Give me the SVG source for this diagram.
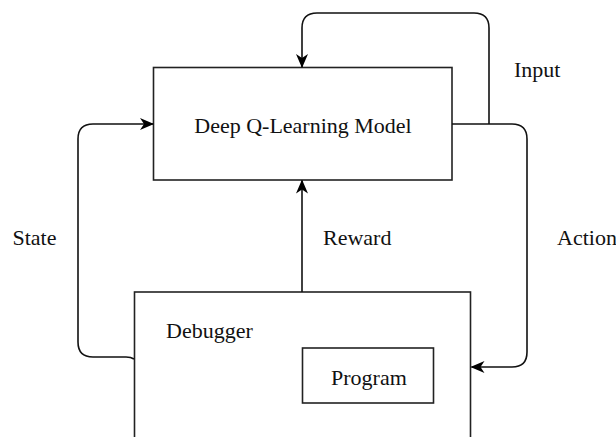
<svg xmlns="http://www.w3.org/2000/svg" width="616" height="437" viewBox="0 0 616 437">
<style>
.box{fill:#fff;stroke:#222;stroke-width:1.6}
.edge{fill:none;stroke:#111;stroke-width:1.6}
text{font-family:"Liberation Serif","Times New Roman",serif;font-size:22px;fill:#111}
</style>
<defs>
<marker id="arr" viewBox="0 0 14 12" refX="13" refY="6" markerWidth="14" markerHeight="12" markerUnits="userSpaceOnUse" orient="auto">
<path d="M0,0 L14,6 L0,12 L4,6 Z" fill="#000"/>
</marker>
</defs>
<rect width="616" height="437" fill="#fff"/>
<g id="model">
<rect class="box" x="153.5" y="67.5" width="298.5" height="112.5"/>
<text x="303" y="133" text-anchor="middle">Deep Q-Learning Model</text>
</g>
<g id="debugger">
<rect class="box" x="134.5" y="292" width="336" height="160"/>
<text x="166" y="338">Debugger</text>
</g>
<g id="program">
<rect class="box" x="302.5" y="348" width="131" height="55"/>
<text x="331" y="385">Program</text>
</g>
<g id="connectors">
<path class="edge" d="M489,124 V28 Q489,13 474,13 H317 Q302,13 302,28 V67" marker-end="url(#arr)"/>
<path class="edge" d="M452,124 H512 Q527,124 527,139 V352 Q527,367 512,367 H471.5" marker-end="url(#arr)"/>
<path class="edge" d="M134,359 Q131,357 126,357 H93 Q78,357 78,342 V139 Q78,124 93,124 H153" marker-end="url(#arr)"/>
<path class="edge" d="M302,292 V180.5" marker-end="url(#arr)"/>
<text x="514" y="77">Input</text>
<text x="12.5" y="245">State</text>
<text x="323" y="245">Reward</text>
<text x="557" y="245">Action</text>
</g>
</svg>
